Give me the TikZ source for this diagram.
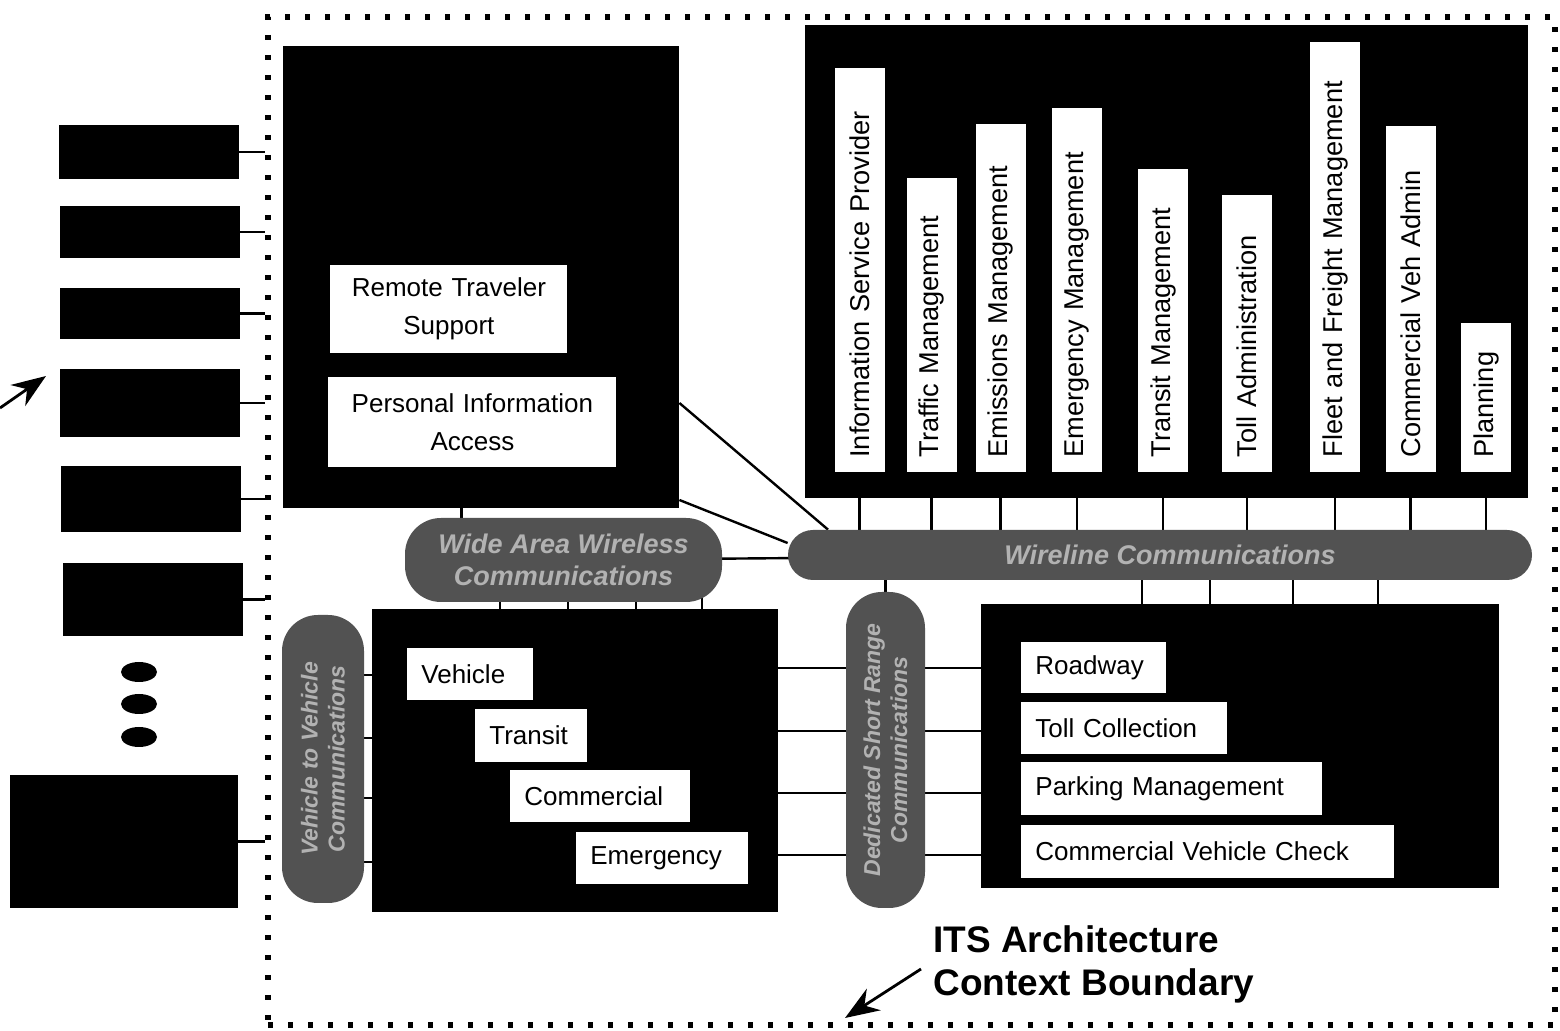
\documentclass[tikz,border=0pt]{standalone}
\usepackage{fontspec}
\setmainfont{Liberation Sans}
\usetikzlibrary{positioning, arrows.meta, backgrounds, shapes.geometric}

\begin{document}
\begin{tikzpicture}[
    x=0.5pt, y=-0.5pt,
    blk/.style={rectangle, fill=black, inner sep=0pt},
    sub/.style={rectangle, fill=white, inner xsep=7pt, inner ysep=0pt, anchor=west,
                align=left, font=\fontsize{13}{19}\selectfont},
    bar/.style={rectangle, fill=white, rotate=90, anchor=west, inner xsep=7pt, inner ysep=0pt,
                minimum height=25pt, align=left, font=\fontsize{13.6}{16}\selectfont},
    pill/.style={rectangle, rounded corners=#1, fill=black!68, text=black!30, inner sep=0pt,
                 align=center, font=\fontsize{13.5}{16}\selectfont\bfseries\itshape},
    pill/.default=12.5pt,
    conn/.style={line width=1.2pt},
    arrow/.style={-{Stealth[length=6mm, width=4.5mm]}, line width=1.4pt},
    boundary/.style={draw, line width=2.6pt, dash pattern=on 2.6pt off 7.4pt}
]
    \useasboundingbox (0,0) rectangle (1560,1031);

    % === Context boundary ===
    \node[boundary, minimum width=643.5pt, minimum height=504pt] (bnd) at (911.5,521) {};

    % === Terminators ===
    \node[blk, minimum width=90pt, minimum height=27pt] (t1) at (149,152) {};
    \node[blk, minimum width=90pt, minimum height=26pt] (t2) at (150,232) {};
    \node[blk, minimum width=90pt, minimum height=25.5pt] (t3) at (150,313.5) {};
    \node[blk, minimum width=90pt, minimum height=34pt] (t4) at (150,403) {};
    \node[blk, minimum width=90pt, minimum height=33pt] (t5) at (151,499) {};
    \node[blk, minimum width=90pt, minimum height=36.5pt] (t6) at (153,599.5) {};
    \node[blk, minimum width=114pt, minimum height=66.5pt] (t7) at (124,841.5) {};
    \node[ellipse, fill=black, minimum width=18pt, minimum height=10pt, inner sep=0pt] (d1) at (139,672) {};
    \node[ellipse, fill=black, minimum width=18pt, minimum height=10pt, inner sep=0pt] (d2) at (139,704) {};
    \node[ellipse, fill=black, minimum width=18pt, minimum height=10pt, inner sep=0pt] (d3) at (139,737) {};

    \draw[conn] (t1.east) -- (t1.east -| bnd.west);
    \draw[conn] (t2.east) -- (t2.east -| bnd.west);
    \draw[conn] (t3.east) -- (t3.east -| bnd.west);
    \draw[conn] (t4.east) -- (t4.east -| bnd.west);
    \draw[conn] (t5.east) -- (t5.east -| bnd.west);
    \draw[conn] (t6.east) -- (t6.east -| bnd.west);
    \draw[conn] (t7.east) -- (t7.east -| bnd.west);

    \coordinate (termtail) at (0,408);
    \coordinate (termtip) at (46,376);
    \draw[arrow] (termtail) -- (termtip);

    % === Traveler subsystems ===
    \node[blk, minimum width=198pt, minimum height=231pt] (trav) at (481,277) {};
    \node[sub, align=center, text width=104.5pt, minimum height=44pt] (rts) at (330,309) {Remote Traveler\\Support};
    \node[sub, align=center, text width=130pt, minimum height=45pt] (pia) at (328,422) {Personal Information\\Access};

    % === Center subsystems ===
    \node[blk, minimum width=361.5pt, minimum height=236.5pt] (ctr) at (1166.5,261.5) {};
    \node[bar, text width=188pt] (b1) at (859.5,472) {Information Service Provider};
    \node[bar, text width=133pt] (b2) at (931.5,472) {Traffic Management};
    \node[bar, text width=160pt] (b3) at (1000.5,472) {Emissions Management};
    \node[bar, text width=168pt] (b4) at (1077,472) {Emergency Management};
    \node[bar, text width=137.5pt] (b5) at (1163,472) {Transit Management};
    \node[bar, text width=124.5pt] (b6) at (1247,472) {Toll Administration};
    \node[bar, text width=201pt] (b7) at (1335,472) {Fleet and Freight Management};
    \node[bar, text width=159pt] (b8) at (1410.5,472) {Commercial Veh Admin};
    \node[bar, text width=60.5pt] (b9) at (1486,472) {Planning};

    % === Vehicle subsystems ===
    \node[blk, minimum width=203pt, minimum height=151.5pt] (veh) at (575,760.5) {};
    \node[sub, text width=49pt, minimum height=26pt] (vv) at (407,674) {Vehicle};
    \node[sub, text width=42pt, minimum height=26.5pt] (vt) at (475,735.5) {Transit};
    \node[sub, text width=76pt, minimum height=26pt] (vc) at (510,796) {Commercial};
    \node[sub, text width=72pt, minimum height=26pt] (ve) at (576,858) {Emergency};

    % === Roadside subsystems ===
    \node[blk, minimum width=259pt, minimum height=142pt] (road) at (1240,746) {};
    \node[sub, text width=58.5pt, minimum height=25.5pt] (rr) at (1021,667.5) {Roadway};
    \node[sub, text width=89pt, minimum height=26pt] (rt) at (1021,728) {Toll Collection};
    \node[sub, text width=136.5pt, minimum height=26.5pt] (rp) at (1021,788.5) {Parking Management};
    \node[sub, text width=172.5pt, minimum height=26.5pt] (rc) at (1021,851.5) {Commercial Vehicle Check};

    % === Communications ===
    \node[pill, minimum width=372pt, minimum height=25pt] (wire) at (1160,555) {\hspace{10pt}Wireline Communications};
    \node[pill=18pt, minimum width=158.5pt, minimum height=42pt] (wide) at (563.5,560) {Wide Area Wireless\\Communications};
    \node[pill=18pt, rotate=90, minimum width=144pt, minimum height=41pt, font=\fontsize{11.5}{13.5}\selectfont\bfseries\itshape] (v2v) at (323,759) {Vehicle to Vehicle\\Communications};
    \node[pill=18pt, rotate=90, minimum width=158pt, minimum height=39.5pt, font=\fontsize{11.5}{13.5}\selectfont\bfseries\itshape] (dsrc) at (885.5,750) {Dedicated Short Range\\Communications};

    \begin{pgfonlayer}{background}
        \draw[conn] (b1 |- ctr.south) -- (b1 |- wire.center);
        \draw[conn] (b2 |- ctr.south) -- (b2 |- wire.center);
        \draw[conn] (b3 |- ctr.south) -- (b3 |- wire.center);
        \draw[conn] (b4 |- ctr.south) -- (b4 |- wire.center);
        \draw[conn] (b5 |- ctr.south) -- (b5 |- wire.center);
        \draw[conn] (b6 |- ctr.south) -- (b6 |- wire.center);
        \draw[conn] (b7 |- ctr.south) -- (b7 |- wire.center);
        \draw[conn] (b8 |- ctr.south) -- (b8 |- wire.center);
        \draw[conn] (b9 |- ctr.south) -- (b9 |- wire.center);

        \draw[conn] ([xshift=-49pt]road.north) -- ([xshift=-49pt]road.north |- wire.center);
        \draw[conn] ([xshift=-15pt]road.north) -- ([xshift=-15pt]road.north |- wire.center);
        \draw[conn] ([xshift=26.5pt]road.north) -- ([xshift=26.5pt]road.north |- wire.center);
        \draw[conn] ([xshift=69pt]road.north) -- ([xshift=69pt]road.north |- wire.center);
        \draw[conn] (dsrc.center) -- (dsrc.center |- wire.center);

        \draw[conn] ([xshift=-51pt]wide.center) -- ([xshift=-51pt]wide.center |- trav.south);
        \draw[conn] ([xshift=-31.75pt]wide.center) -- ([xshift=-31.75pt]wide.center |- veh.north);
        \draw[conn] ([xshift=2.25pt]wide.center) -- ([xshift=2.25pt]wide.center |- veh.north);
        \draw[conn] ([xshift=36.25pt]wide.center) -- ([xshift=36.25pt]wide.center |- veh.north);
        \draw[conn] ([xshift=69.25pt]wide.center) -- ([xshift=69.25pt]wide.center |- veh.north);
        \draw[conn] (wide.center) -- (wire.center);

        \draw[conn] ([yshift=-63pt]trav.east) -- ([xshift=-166pt]wire.north);
        \draw[conn] ([yshift=-111.5pt]trav.east) -- ([yshift=6pt]wire.west);

        \draw[conn] ([yshift=46.25pt]veh.east) -- ([yshift=46.25pt]veh.east -| road.west);
        \draw[conn] ([yshift=14.75pt]veh.east) -- ([yshift=14.75pt]veh.east -| road.west);
        \draw[conn] ([yshift=-16.25pt]veh.east) -- ([yshift=-16.25pt]veh.east -| road.west);
        \draw[conn] ([yshift=-47.25pt]veh.east) -- ([yshift=-47.25pt]veh.east -| road.west);

        \draw[conn] ([yshift=42.75pt]veh.west) -- ([yshift=42.75pt]veh.west -| v2v.center);
        \draw[conn] ([yshift=11.25pt]veh.west) -- ([yshift=11.25pt]veh.west -| v2v.center);
        \draw[conn] ([yshift=-18.75pt]veh.west) -- ([yshift=-18.75pt]veh.west -| v2v.center);
        \draw[conn] ([yshift=-50.75pt]veh.west) -- ([yshift=-50.75pt]veh.west -| v2v.center);
    \end{pgfonlayer}

    % === Boundary label ===
    \node[anchor=north west, inner sep=0pt, align=left, font=\fontsize{18.5}{21.5}\selectfont\bfseries] (ctxlbl) at (933,925) {ITS Architecture\\Context Boundary};
    \coordinate (ctxtail) at (921,969);
    \coordinate (ctxtip) at (845,1018);
    \draw[arrow] (ctxtail) -- (ctxtip);

\end{tikzpicture}
\end{document}
